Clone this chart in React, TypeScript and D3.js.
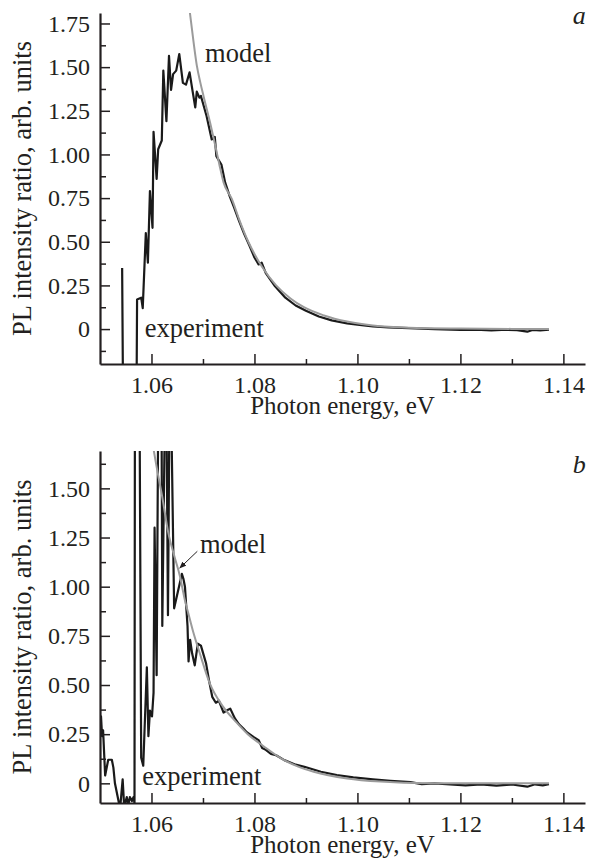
import React, { useRef, useEffect } from "react";
import * as d3 from "d3";

// photon energy (eV) / intensity ratio pairs
const experimentA: [number, number][] = [
  [1.0543, 0.35], [1.0546, -0.9], [1.057, -0.9], [1.0572, 0.17], [1.058, 0.18], [1.0583, 0.12],
  [1.0589, 0.55], [1.0593, 0.38], [1.0597, 0.79], [1.0602, 0.58], [1.0604, 1.13], [1.061, 0.86],
  [1.0613, 1.03], [1.062, 1.08], [1.0623, 1.48], [1.0629, 1.19], [1.0634, 1.565], [1.0638, 1.37],
  [1.0642, 1.46], [1.0648, 1.48], [1.0654, 1.575], [1.0661, 1.41], [1.0667, 1.4], [1.0674, 1.47],
  [1.068, 1.36], [1.0685, 1.27], [1.0688, 1.36], [1.0693, 1.325], [1.0696, 1.335], [1.0707, 1.22],
  [1.0717, 1.086], [1.0723, 1.1], [1.0726, 0.99], [1.0736, 0.94], [1.0743, 0.84], [1.0752, 0.76],
  [1.076, 0.7], [1.077, 0.62], [1.078, 0.545], [1.079, 0.48], [1.08, 0.41], [1.0808, 0.37],
  [1.0814, 0.38], [1.0822, 0.32], [1.084, 0.245], [1.086, 0.18], [1.088, 0.135], [1.09, 0.105],
  [1.0925, 0.072], [1.095, 0.05], [1.098, 0.033], [1.1, 0.025], [1.103, 0.015], [1.106, 0.01],
  [1.11, 0.005], [1.115, 0], [1.12, -0.005], [1.123, -0.003], [1.126, -0.007], [1.129, -0.004],
  [1.131, -0.006], [1.133, -0.015], [1.134, -0.005], [1.1355, -0.008], [1.1372, -0.004],
];

const modelA: [number, number][] = [
  [1.0673, 1.85], [1.0681, 1.66], [1.0688, 1.51], [1.0695, 1.41], [1.0701, 1.335], [1.0714, 1.18],
  [1.0724, 1.05], [1.0732, 0.94], [1.074, 0.84], [1.0756, 0.745], [1.077, 0.63], [1.0788, 0.5],
  [1.08, 0.43], [1.0815, 0.355], [1.0842, 0.25], [1.087, 0.175], [1.0896, 0.125], [1.0935, 0.078],
  [1.098, 0.043], [1.103, 0.021], [1.11, 0.008], [1.12, 0.003], [1.13, 0.001], [1.1372, 0],
];

const experimentB: [number, number][] = [
  [1.05, 0.33], [1.0502, 0.34], [1.0504, 0.24], [1.0506, 0.27], [1.051, 0.04], [1.0516, 0.12],
  [1.0523, 0.12], [1.0526, 0.08], [1.0529, 0], [1.0536, -0.09], [1.0539, -0.13], [1.0544, 0.02],
  [1.0547, -0.12], [1.0552, -0.07], [1.0555, -0.11], [1.0558, -0.07], [1.0562, -0.09], [1.0565, -0.07],
  [1.0567, -0.1], [1.0568, 2.4], [1.0576, 2.4], [1.058, 0.13], [1.0584, 0.09], [1.0591, 0.59],
  [1.0594, 0.24], [1.0597, 0.37], [1.0601, 0.34], [1.0604, 0.46], [1.0606, 1.3], [1.061, 0.55],
  [1.0614, 2.3], [1.0619, 2.3], [1.0621, 0.8], [1.0628, 2.3], [1.0632, 0.855], [1.0636, 2.3],
  [1.0644, 0.89], [1.0659, 1.065], [1.0662, 1.04], [1.0665, 1.0], [1.067, 0.8], [1.0672, 0.62],
  [1.0675, 0.73], [1.0679, 0.66], [1.0684, 0.6], [1.069, 0.71], [1.0696, 0.7], [1.0706, 0.61],
  [1.0712, 0.52], [1.0718, 0.44], [1.0725, 0.41], [1.0731, 0.42], [1.074, 0.36], [1.0746, 0.37],
  [1.0753, 0.38], [1.0762, 0.33], [1.077, 0.3], [1.0778, 0.28], [1.0785, 0.26], [1.0798, 0.236],
  [1.0808, 0.22], [1.0815, 0.18], [1.0822, 0.17], [1.0832, 0.15], [1.0842, 0.143], [1.0858, 0.118],
  [1.088, 0.095], [1.0897, 0.084], [1.0929, 0.059], [1.096, 0.042], [1.0992, 0.03], [1.103, 0.02],
  [1.1064, 0.013], [1.1103, 0.006], [1.1125, -0.004], [1.115, 0], [1.118, -0.006], [1.121, -0.01],
  [1.124, -0.005], [1.127, -0.012], [1.13, -0.006], [1.133, -0.017], [1.1345, -0.005], [1.136, -0.01],
  [1.1372, -0.004],
];

const modelB: [number, number][] = [
  [1.0598, 1.8], [1.0604, 1.7], [1.0612, 1.58], [1.062, 1.47], [1.0633, 1.27], [1.0645, 1.15],
  [1.0655, 1.056], [1.0665, 0.93], [1.0672, 0.86], [1.068, 0.78], [1.0694, 0.66], [1.0713, 0.51],
  [1.0739, 0.39], [1.0765, 0.31], [1.0787, 0.25], [1.0817, 0.19], [1.0856, 0.12], [1.0885, 0.085],
  [1.0915, 0.059], [1.098, 0.025], [1.1045, 0.009], [1.1137, 0.001], [1.1372, 0],
];

const xTicks = [1.06, 1.08, 1.1, 1.12, 1.14];
const xMinorTicks = [1.07, 1.09, 1.11, 1.13];
const yTicksA = [0, 0.25, 0.5, 0.75, 1.0, 1.25, 1.5, 1.75];
const yMinorA = [-0.125, 0.125, 0.375, 0.625, 0.875, 1.125, 1.375, 1.625];
const yTicksB = [0, 0.25, 0.5, 0.75, 1.0, 1.25, 1.5];
const yMinorB = [0.125, 0.375, 0.625, 0.875, 1.125, 1.375, 1.625];

const xLabel = "Photon energy, eV";
const yLabel = "PL intensity ratio, arb. units";

const FONT = "Liberation Serif, DejaVu Serif, serif";
const INK = "#231f20";

const App = () => {
  const svgRef = useRef<SVGSVGElement>(null);

  useEffect(() => {
    const width = 589;
    const height = 868;
    const marginLeft = 100;
    const marginRight = 4;

    const panels = [
      {
        id: "a", exp: experimentA, model: modelA, yDomain: [-0.2, 1.81], top: 13, bottom: 364,
        yTicks: yTicksA, yMinor: yMinorA,
        modelText: [1.0704, 1.53], expText: [1.0587, -0.046], letter: [1.1418, 1.747], arrow: null,
      },
      {
        id: "b", exp: experimentB, model: modelB, yDomain: [-0.1, 1.69], top: 451, bottom: 803,
        yTicks: yTicksB, yMinor: yMinorB,
        modelText: [1.0694, 1.173], expText: [1.0582, -0.009], letter: [1.1418, 1.579],
        arrow: [[1.0689, 1.18], [1.0655, 1.095]],
      },
    ];

    const svg = d3.select(svgRef.current)
      .attr("width", width)
      .attr("height", height)
      .attr("viewBox", [0, 0, width, height].join(" "))
      .style("font-family", FONT);
    svg.selectAll("*").remove();

    svg.append("defs").append("marker")
      .attr("id", "arrowhead")
      .attr("viewBox", "0 0 10 10")
      .attr("refX", 9).attr("refY", 5)
      .attr("markerWidth", 7).attr("markerHeight", 7)
      .attr("orient", "auto")
      .append("path").attr("d", "M0,1 L10,5 L0,9 z").attr("fill", INK);

    const x = d3.scaleLinear().domain([1.05, 1.1442]).range([marginLeft, width - marginRight]);

    panels.forEach((p) => {
      const y = d3.scaleLinear().domain(p.yDomain).range([p.bottom, p.top]);
      const g = svg.append("g");

      g.append("clipPath").attr("id", "clip-" + p.id)
        .append("rect")
        .attr("x", marginLeft).attr("y", p.top)
        .attr("width", width - marginRight - marginLeft).attr("height", p.bottom - p.top);

      const line = d3.line<[number, number]>().x(d => x(d[0])).y(d => y(d[1]));

      g.append("path").datum(p.exp)
        .attr("clip-path", `url(#clip-${p.id})`)
        .attr("fill", "none").attr("stroke", "#1a1a1a").attr("stroke-width", 2.2)
        .attr("stroke-linejoin", "round")
        .attr("d", line);

      g.append("path").datum(p.model)
        .attr("clip-path", `url(#clip-${p.id})`)
        .attr("fill", "none").attr("stroke", "#9b9b9b").attr("stroke-width", 2)
        .attr("d", d3.line<[number, number]>().curve(d3.curveMonotoneX).x(d => x(d[0])).y(d => y(d[1])));

      // y axis: inward ticks, labels on the left
      g.append("g")
        .attr("transform", `translate(${marginLeft},0)`)
        .call(d3.axisLeft(y).tickValues(p.yMinor).tickSize(-6).tickSizeOuter(0).tickFormat(() => ""))
        .call(s => s.select(".domain").remove());
      const yAxis = g.append("g")
        .attr("transform", `translate(${marginLeft},0)`)
        .call(d3.axisLeft(y).tickValues(p.yTicks).tickSize(-10).tickSizeOuter(0).tickPadding(10)
          .tickFormat(d => (+d === 0 ? "0" : d3.format(".2f")(+d))));
      yAxis.select(".domain").attr("stroke-width", 2.2);

      // x axis
      g.append("g")
        .attr("transform", `translate(0,${p.bottom})`)
        .call(d3.axisBottom(x).tickValues(xMinorTicks).tickSize(-5).tickSizeOuter(0).tickFormat(() => ""))
        .call(s => s.select(".domain").remove());
      const xAxis = g.append("g")
        .attr("transform", `translate(0,${p.bottom})`)
        .call(d3.axisBottom(x).tickValues(xTicks).tickSize(-10).tickSizeOuter(0).tickPadding(12)
          .tickFormat(d => d3.format(".2f")(+d)));
      xAxis.select(".domain").attr("stroke-width", 2.2);

      g.selectAll("g").attr("font-family", null);
      g.selectAll(".tick line").attr("stroke", INK).attr("stroke-width", 1.5);
      g.selectAll(".domain").attr("stroke", INK);
      g.selectAll(".tick text").attr("fill", INK).attr("font-size", 24).style("font-family", FONT);

      // axis titles
      g.append("text")
        .attr("x", (marginLeft + width - marginRight) / 2)
        .attr("y", p.bottom + 50)
        .attr("text-anchor", "middle")
        .style("font-family", FONT).attr("font-size", 25).attr("fill", INK)
        .text(xLabel);

      g.append("text")
        .attr("transform", `translate(31,${(p.top + p.bottom) / 2}) rotate(-90)`)
        .attr("text-anchor", "middle")
        .style("font-family", FONT).attr("font-size", 26.5).attr("fill", INK)
        .text(yLabel);

      // annotations
      g.append("text")
        .attr("x", x(p.modelText[0])).attr("y", y(p.modelText[1]))
        .style("font-family", FONT).attr("font-size", 26.5).attr("fill", INK)
        .text("model");
      g.append("text")
        .attr("x", x(p.expText[0])).attr("y", y(p.expText[1]))
        .style("font-family", FONT).attr("font-size", 26.5).attr("fill", INK)
        .text("experiment");
      g.append("text")
        .attr("x", x(p.letter[0])).attr("y", y(p.letter[1]))
        .style("font-family", FONT).attr("font-size", 26).attr("font-style", "italic").attr("fill", INK)
        .text(p.id);

      if (p.arrow) {
        g.append("line")
          .attr("x1", x(p.arrow[0][0])).attr("y1", y(p.arrow[0][1]))
          .attr("x2", x(p.arrow[1][0])).attr("y2", y(p.arrow[1][1]))
          .attr("stroke", INK).attr("stroke-width", 1)
          .attr("marker-end", "url(#arrowhead)");
      }
    });
  }, []);

  return (
    <svg ref={svgRef} style={{ position: "absolute", left: 0, top: 0, background: "#fff" }} />
  );
};

export default App;
